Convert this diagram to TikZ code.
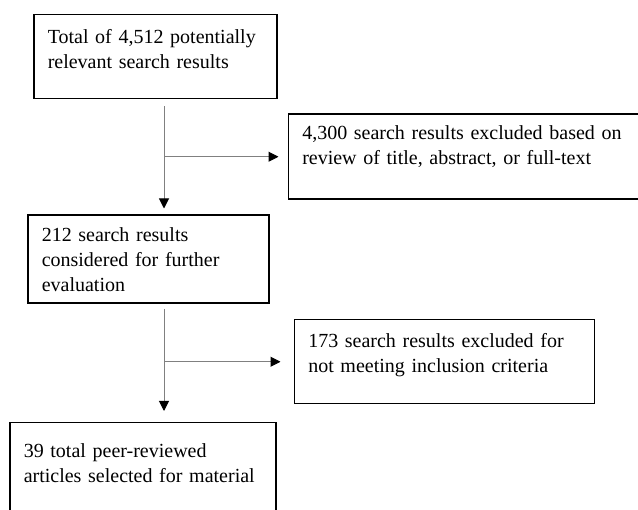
\documentclass[tikz,border=0pt]{standalone}
\usepackage{fontspec}
\setmainfont{Liberation Serif}
\usetikzlibrary{
    arrows.meta,
    positioning
}

\begin{document}
\begin{tikzpicture}[
    x=1pt,
    y=-1pt,
%
    stepbox/.style={
        draw=black,
        rectangle,
        anchor=north west,
        align=left,
        inner xsep=14pt,
        inner ysep=0pt,
        font=\fontsize{20pt}{25pt}\selectfont,
        line width=1.5pt
    },
%
    arrow/.style={
        -{Triangle[length=10pt,width=10pt,color=black]},
        line width=1pt,
        color=black!50
    }
]
%
\useasboundingbox (0,0) rectangle (638,510);
%
% Main column
%
\node[
    stepbox,
    text width=215pt,
    text height=29pt,
    text depth=55pt
] (total) at (33,14) {
    Total of 4,512 potentially\\
    relevant search results
};
%
\node[
    stepbox,
    below right=115pt and -6pt of total.south west,
    text width=213pt,
    text height=26pt,
    text depth=62pt
] (considered) {
    212 search results\\
    considered for further\\
    evaluation
};
%
\node[
    stepbox,
    below right=118pt and -18pt of considered.south west,
    text width=238pt,
    text height=35pt,
    text depth=100pt
] (selected) {
    39 total peer-reviewed\\
    articles selected for material
};
%
% Exclusion boxes
%
\node[
    stepbox,
    below right=14pt and 10pt of total.south east,
    text width=332pt,
    text height=25pt,
    text depth=60pt
] (excl1) {
    4,300 search results excluded based on\\
    review of title, abstract, or full-text
};
%
\node[
    stepbox,
    below right=15pt and 24pt of considered.south east,
    text width=272pt,
    text height=28pt,
    text depth=56pt
] (excl2) {
    173 search results excluded for\\
    not meeting inclusion criteria
};
%
% Flow arrows
%
\coordinate (spine) at (164,0);
%
\draw[arrow, shorten <=7pt, shorten >=6pt]
    (total.south -| spine) -- (considered.north -| spine);
\draw[arrow, shorten >=9pt]
    (spine |- excl1.west) -- (excl1.west);
%
\draw[arrow, shorten <=5pt, shorten >=11pt]
    (considered.south -| spine) -- (selected.north -| spine);
\draw[arrow, shorten >=13pt]
    (spine |- excl2.west) -- (excl2.west);
%
\end{tikzpicture}
\end{document}
